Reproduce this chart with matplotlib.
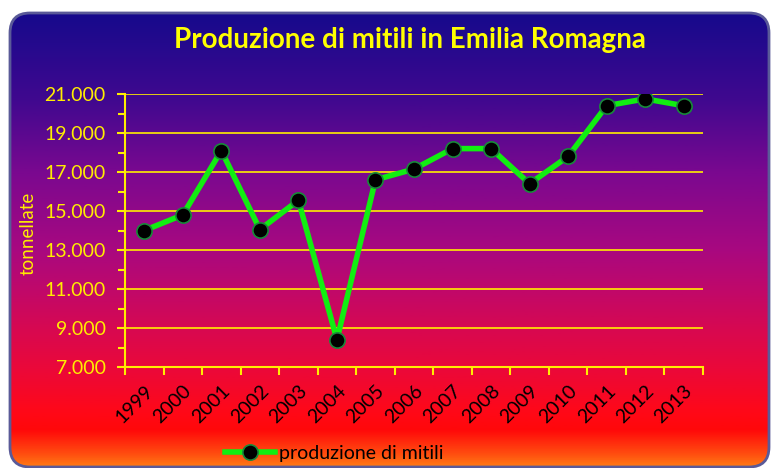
import numpy as np
import matplotlib as mpl
import matplotlib.pyplot as plt
from matplotlib.patches import FancyBboxPatch
from matplotlib.colors import LinearSegmentedColormap
from matplotlib.ticker import FuncFormatter

mpl.use('Agg')

# Data
years = ['1999', '2000', '2001', '2002', '2003', '2004', '2005', '2006',
         '2007', '2008', '2009', '2010', '2011', '2012', '2013']
tonnellate = [14000, 14800, 18100, 14050, 15550, 8400, 16600, 17150,
              18200, 18200, 16400, 17800, 20400, 20750, 20400]
y_ticks = [7000, 9000, 11000, 13000, 15000, 17000, 19000, 21000]

title = 'Produzione di mitili in Emilia Romagna'
series_name = 'produzione di mitili'
ylabel = 'tonnellate'

plt.rcParams['font.family'] = ['Lato', 'DejaVu Sans']

W, H = 771, 468
fig = plt.figure(figsize=(W / 100, H / 100), dpi=100)
fig.patch.set_facecolor('white')

# Background panel with vertical gradient
bg = fig.add_axes([0, 0, 1, 1])
bg.set_xlim(0, W)
bg.set_ylim(H, 0)
bg.axis('off')
grad_cmap = LinearSegmentedColormap.from_list('bg', [
    (0.00, '#160a8c'),
    (0.19, '#40088f'),
    (0.35, '#7a0890'),
    (0.52, '#a80880'),
    (0.61, '#c0086a'),
    (0.70, '#d80850'),
    (0.79, '#ec0838'),
    (0.88, '#ff0818'),
    (0.92, '#ff080a'),
    (0.975, '#ff5010'),
    (1.00, '#ff7a14'),
])
box = FancyBboxPatch((10, 13), 759, 454,
                     boxstyle='round,pad=0,rounding_size=20',
                     facecolor='none', edgecolor='#5a5a98', lw=2,
                     transform=bg.transData)
bg.add_patch(box)
grad = np.linspace(0, 1, 256).reshape(-1, 1)
img = bg.imshow(grad, cmap=grad_cmap, aspect='auto',
                extent=(10, 769, 467, 13), zorder=0)
img.set_clip_path(box)

# Main plot area
ax = fig.add_axes([125 / W, 1 - 367 / H, (703 - 125) / W, (367 - 94) / H])
ax.patch.set_alpha(0)
x = np.arange(len(years))
ax.plot(x, tonnellate, color='#11ee11', lw=4, marker='o', ms=11,
        markerfacecolor='black', markeredgecolor='#188a3a', mew=1.2,
        label=series_name, zorder=3)

ax.set_xlim(-0.5, len(years) - 0.5)
ax.set_ylim(y_ticks[0], y_ticks[-1])
ax.set_yticks(y_ticks)
ax.set_yticks([v + 1000 for v in y_ticks[:-1]], minor=True)
ax.yaxis.set_major_formatter(
    FuncFormatter(lambda v, p: f'{int(v):,}'.replace(',', '.')))
ax.grid(axis='y', which='major', color='#ffee00', lw=1.2)
ax.set_axisbelow(True)

for s in ['top', 'right']:
    ax.spines[s].set_visible(False)
for s in ['left', 'bottom']:
    ax.spines[s].set_color('#ffee00')
    ax.spines[s].set_linewidth(1.5)

ax.set_xticks(np.arange(len(years) + 1) - 0.5, minor=False)
ax.set_xticklabels([])
ax.set_xticks(x, minor=True)
ax.set_xticklabels(years, minor=True, rotation=45, ha='right',
                   rotation_mode='anchor', fontsize=14, color='black')
ax.tick_params(axis='x', which='major', length=6, width=1.5,
               color='#ffee00', direction='out')
ax.tick_params(axis='x', which='minor', length=0, pad=11)
ax.tick_params(axis='y', which='both', color='#ffee00', width=1.5,
               direction='out', labelsize=14, labelcolor='#ffee00')
ax.tick_params(axis='y', which='major', length=6, pad=8)
ax.tick_params(axis='y', which='minor', length=5)

fig.text(28 / W, 1 - 233 / H, ylabel, rotation=90, color='#ffee00',
         fontsize=13.5, ha='center', va='center')
fig.text(410 / W, 1 - 40 / H, title, color='#ffff00', fontsize=20,
         fontweight='bold', ha='center', va='center')

fig.legend(loc='center', bbox_to_anchor=(334 / W, 1 - 453 / H),
           frameon=False, fontsize=14, handlelength=2.6,
           handletextpad=0.2, borderaxespad=0)

fig.savefig('out.png', dpi=100, facecolor='white')
